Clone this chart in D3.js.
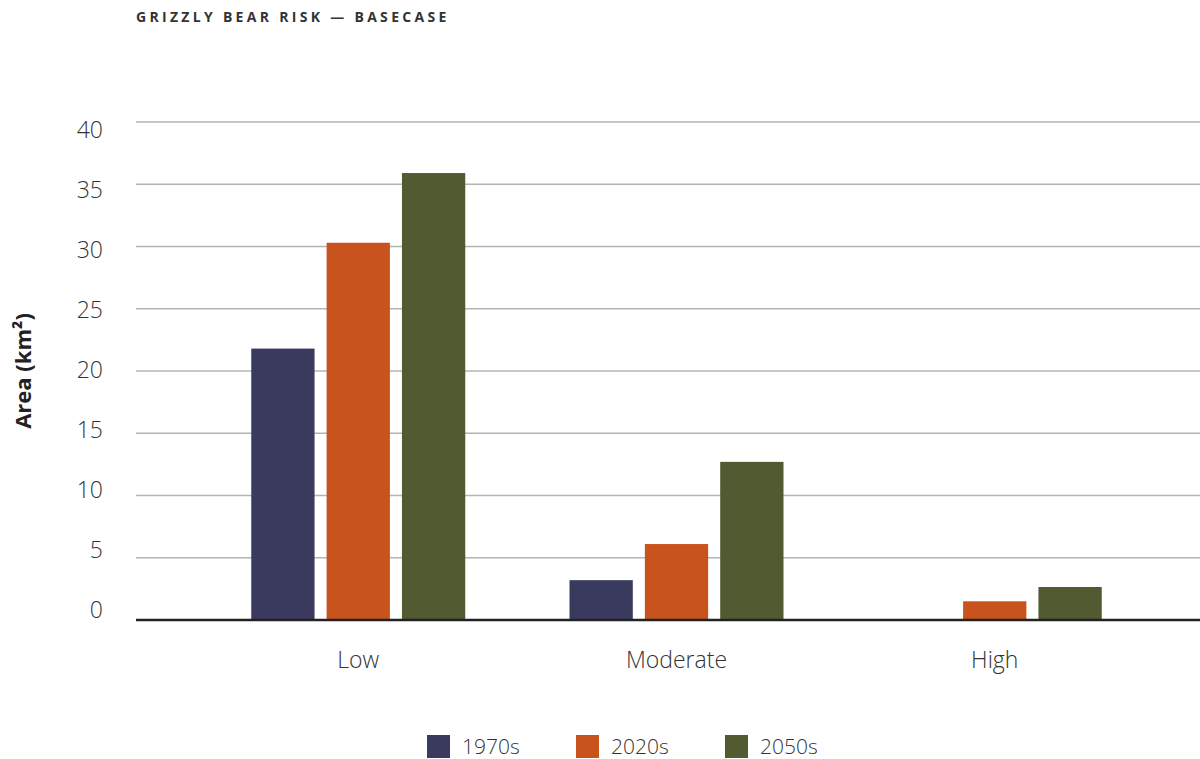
<!DOCTYPE html>
<html>
<head>
<meta charset="utf-8">
<script src="https://cdn.jsdelivr.net/npm/d3@7"></script>
<style>
  html, body { margin: 0; padding: 0; background: #fff; }
  svg { display: block; }
</style>
</head>
<body>
<svg id="chart" width="1200" height="759"></svg>
<script>
// Risk classes on the x axis
const categories = ["Low", "Moderate", "High"];
// Time periods shown as grouped bars
const series = ["1970s", "2020s", "2050s"];
// Area (km²) per risk class, one array per period
const values1970s = [21.8, 3.2, 0];
const values2020s = [30.3, 6.1, 1.5];
const values2050s = [35.9, 12.7, 2.65];
const seriesValues = [values1970s, values2020s, values2050s];
// Y axis ticks
const yTicks = [0, 5, 10, 15, 20, 25, 30, 35, 40];

const colors = ["#3a3a5e", "#c8531c", "#515a30"];
const fontFamily = "'Open Sans', 'Noto Sans', sans-serif";

const svg = d3.select("#chart");

const y = d3.scaleLinear().domain([0, 40]).range([620, 122]);
// tick labels sit on their own slightly tighter ladder
const yLabel = d3.scaleLinear().domain([0, 40]).range([609, 129]);
const x0 = d3.scaleBand().domain(categories).range([147, 1206]).padding(0.3276);
const x1 = d3.scaleBand().domain(series).range([0, x0.bandwidth()]).paddingInner(0.16).paddingOuter(0);
const color = d3.scaleOrdinal().domain(series).range(colors);

// Title
svg.append("text")
  .attr("x", 136).attr("y", 22)
  .attr("font-family", fontFamily)
  .attr("font-weight", 700)
  .attr("font-size", 14)
  .attr("letter-spacing", 3.3)
  .attr("fill", "#333")
  .text("GRIZZLY BEAR RISK — BASECASE");

// Horizontal gridlines
svg.append("g").selectAll("line")
  .data(yTicks.filter(d => d > 0))
  .join("line")
  .attr("x1", 136).attr("x2", 1200)
  .attr("y1", d => y(d)).attr("y2", d => y(d))
  .attr("stroke", "#b4b4b4")
  .attr("stroke-width", 1.5);

// Y axis tick labels
const yAxis = d3.axisLeft(yLabel).tickValues(yTicks).tickSize(0).tickPadding(0);
const yg = svg.append("g").attr("transform", "translate(103,0)").call(yAxis);
yg.select(".domain").remove();
yg.selectAll("text")
  .attr("font-family", fontFamily)
  .attr("font-weight", 300)
  .attr("font-size", 23)
  .attr("fill", "#333")
  .attr("dy", "0.35em");

// Y axis title
svg.append("text")
  .attr("transform", "translate(31,371) rotate(-90)")
  .attr("text-anchor", "middle")
  .attr("font-family", fontFamily)
  .attr("font-weight", 700)
  .attr("font-size", 22)
  .attr("fill", "#222")
  .text("Area (km²)");

// Bars
const groups = svg.append("g").selectAll("g")
  .data(categories)
  .join("g")
  .attr("transform", d => `translate(${x0(d)},0)`);

groups.selectAll("rect")
  .data((d, i) => series.map((s, j) => ({ s, v: seriesValues[j][i] })))
  .join("rect")
  .attr("x", d => x1(d.s))
  .attr("width", x1.bandwidth())
  .attr("y", d => y(d.v))
  .attr("height", d => y(0) - y(d.v))
  .attr("fill", d => color(d.s));

// Baseline
svg.append("line")
  .attr("x1", 136).attr("x2", 1200)
  .attr("y1", y(0)).attr("y2", y(0))
  .attr("stroke", "#222")
  .attr("stroke-width", 2.5);

// X axis category labels
const xAxis = d3.axisBottom(x0).tickSize(0).tickPadding(0);
const xg = svg.append("g").attr("transform", "translate(0,668)").call(xAxis);
xg.select(".domain").remove();
xg.selectAll("text")
  .attr("font-family", fontFamily)
  .attr("font-weight", 300)
  .attr("font-size", 23)
  .attr("fill", "#333")
  .attr("dy", "0")
  .attr("y", 0);

// Legend
const legend = svg.append("g").selectAll("g")
  .data(series)
  .join("g")
  .attr("transform", (d, i) => `translate(${427 + i * 149},735)`);
legend.append("rect")
  .attr("width", 23).attr("height", 23)
  .attr("fill", d => color(d));
legend.append("text")
  .attr("x", 35).attr("y", 19)
  .attr("font-family", fontFamily)
  .attr("font-weight", 300)
  .attr("font-size", 21)
  .attr("fill", "#333")
  .text(d => d);
</script>
</body>
</html>
